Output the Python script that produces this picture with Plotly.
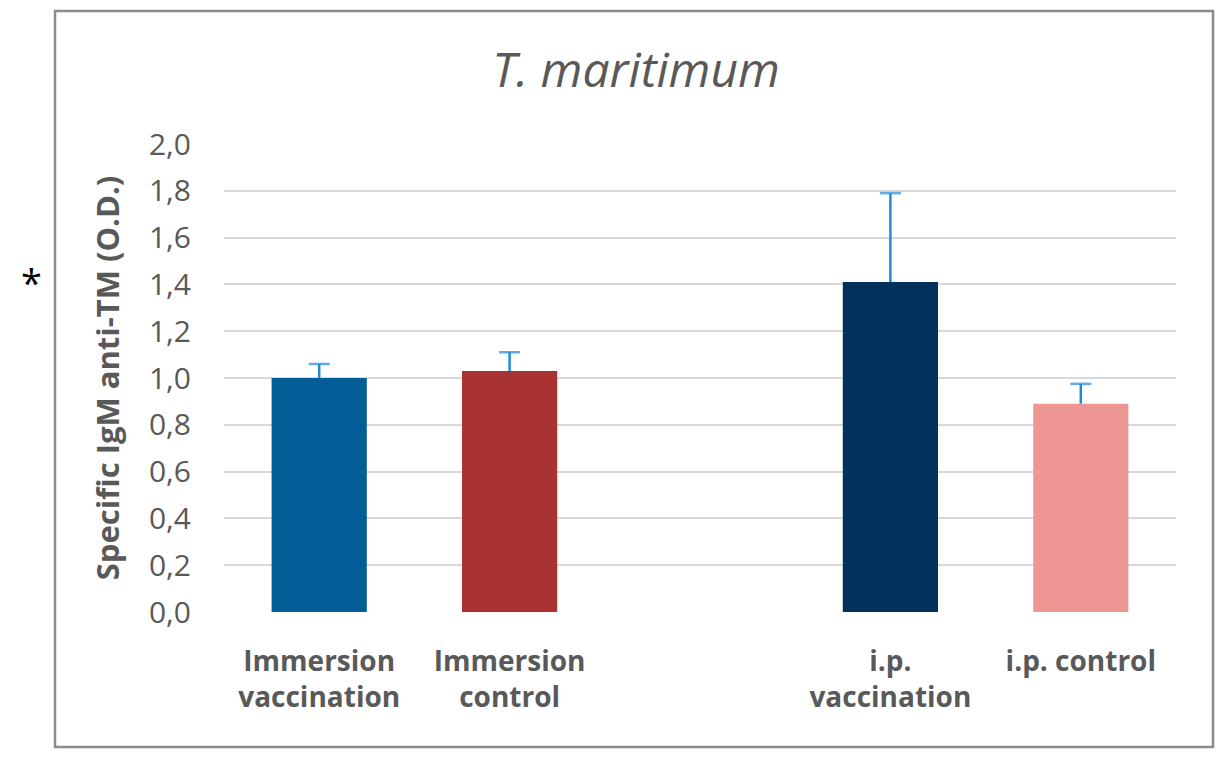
import plotly.graph_objects as go

categories = ["Immersion<br>vaccination", "Immersion<br>control", " ", "i.p.<br>vaccination", "i.p. control"]
values = [1.00, 1.03, None, 1.41, 0.89]
errors = [0.06, 0.08, None, 0.38, 0.085]
colors = ["#035D96", "#A93232", "#FFFFFF", "#00325C", "#EE9694"]
y_ticks = [0.0, 0.2, 0.4, 0.6, 0.8, 1.0, 1.2, 1.4, 1.6, 1.8, 2.0]
y_ticklabels = [f"{v:.1f}".replace(".", ",") for v in y_ticks]

FONT = "Open Sans"
GRAY = "#595959"
ERR_COLOR = "#1F8AD9"

fig = go.Figure()
fig.add_trace(go.Bar(
    x=categories,
    y=values,
    marker=dict(color=colors, line=dict(width=0)),
    showlegend=False,
    hoverinfo="x+y",
))

# upper-only error bars (line from bar top to top of error, cap at top only)
for cat, v, e in zip(categories, values, errors):
    if v is None or e is None:
        continue
    fig.add_trace(go.Scatter(
        x=[cat, cat], y=[v, v + e],
        mode="lines+markers",
        line=dict(color=ERR_COLOR, width=2.5),
        marker=dict(symbol="line-ew", size=[0, 15],
                    line=dict(color=ERR_COLOR, width=2.5)),
        showlegend=False, hoverinfo="skip",
    ))

fig.update_layout(
    width=1222, height=758,
    margin=dict(l=224, r=46, t=144, b=146),
    paper_bgcolor="white", plot_bgcolor="white",
    bargap=0.5,
    title=dict(text="<i>T. maritimum</i>", x=0.5205, xanchor="center",
               y=0.908, yanchor="middle",
               font=dict(family=FONT, size=48, color=GRAY)),
    font=dict(family=FONT, color=GRAY),
    xaxis=dict(type="category", categoryorder="array", categoryarray=categories,
               showgrid=False, showline=False, zeroline=False, ticks="",
               ticklabelstandoff=30,
               tickfont=dict(family=FONT, size=28, color=GRAY, weight="bold")),
    yaxis=dict(range=[0, 2.0], tickvals=y_ticks, ticktext=y_ticklabels,
               showgrid=True, gridcolor="#D9D9D9", gridwidth=2,
               zeroline=False, showline=False, ticks="",
               ticklabelstandoff=32,
               tickfont=dict(family=FONT, size=30, color=GRAY),
               title=dict(text="<b>Specific IgM anti-TM (O.D.)</b>",
                          font=dict(family=FONT, size=31, color=GRAY),
                          standoff=20)),
    shapes=[dict(type="rect", xref="paper", yref="paper",
                 x0=-0.1775, x1=1.0389, y0=-0.2885, y1=1.284,
                 line=dict(color="#8C8C8C", width=2.5), fillcolor="rgba(0,0,0,0)",
                 layer="below")],
    annotations=[dict(text="*", xref="paper", yref="paper",
                      x=(31 - 224) / 952, y=(612 - 282) / 468,
                      xanchor="center", yanchor="middle", showarrow=False,
                      font=dict(family=FONT, size=38, color="#000000"))],
)

fig.write_html("out.html")
